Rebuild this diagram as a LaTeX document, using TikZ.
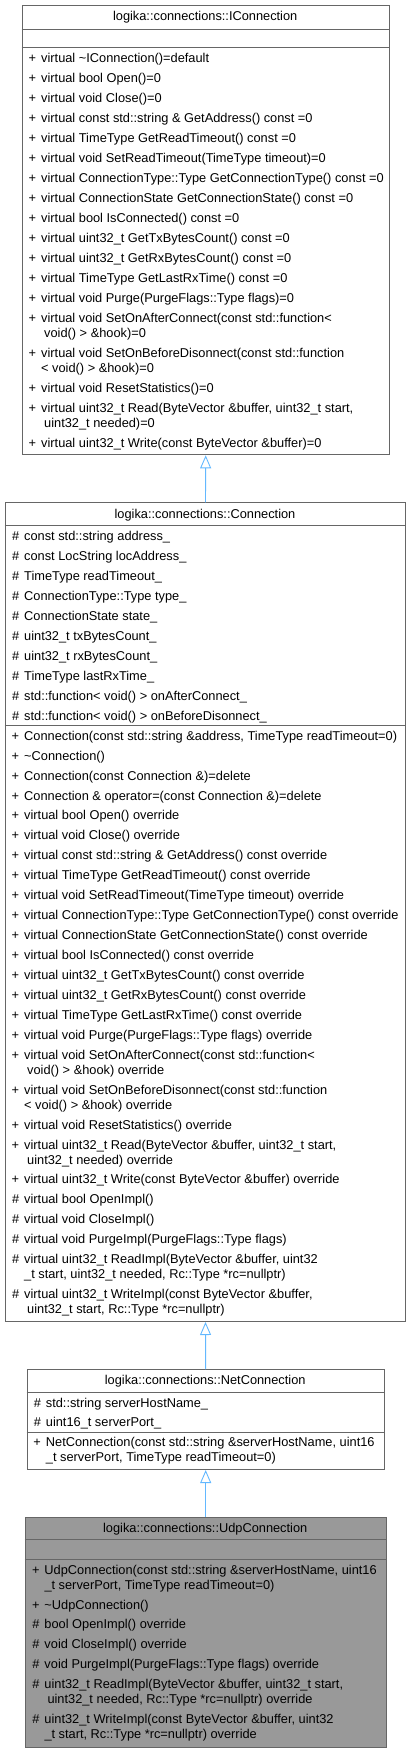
\documentclass[tikz,border=0pt]{standalone}
\usepackage{fontspec}
\setmainfont{Liberation Sans}
\usetikzlibrary{arrows.meta,positioning}
\definecolor{boxgray}{HTML}{666666}
\definecolor{edgeblue}{HTML}{63B8FF}
\definecolor{udpgray}{HTML}{999999}
\tikzset{>=latex,
  classbox/.style={draw=boxgray,line width=1pt,fill=white,anchor=north west,inner sep=0pt},
  member/.style={anchor=west,inner sep=0pt,font=\fontsize{12.8}{15}\selectfont},
  boxtitle/.style={inner sep=0pt,font=\fontsize{12.8}{15}\selectfont},
  inherit/.style={draw=edgeblue,line width=0.9pt,-{Triangle[open,length=13pt,width=11pt]}}}
\newcommand{\classsep}[2]{\draw[draw=boxgray,line width=1pt] (#1.west |- 0,#2) -- (#1.east |- 0,#2);}

\begin{document}
\begin{tikzpicture}[x=1pt,y=-1pt]
    \useasboundingbox (0,0) rectangle (411,1752);
    % class boxes
    \node[classbox,minimum width=367,minimum height=449.3] (iconn) at (21.7,5) {};
    \node[classbox,minimum width=400.6,minimum height=818.7] (conn) at (4.7,502.3) {};
    \node[classbox,minimum width=357,minimum height=99.7] (netconn) at (26.7,1369.3) {};
    \node[classbox,fill=udpgray,minimum width=361,minimum height=230] (udpconn) at (24.7,1516.7) {};
    \classsep{iconn}{29.3} \classsep{iconn}{47.7}
    \classsep{conn}{525.7} \classsep{conn}{725.3}
    \classsep{netconn}{1392.3} \classsep{netconn}{1432.7}
    \classsep{udpconn}{1539.3} \classsep{udpconn}{1559.3}
    % titles
    \node[boxtitle] (iconnT) at (205.2,17) {logika::connections::IConnection};
    \node[boxtitle] (connT) at (205,515.5) {logika::connections::Connection};
    \node[boxtitle] (netconnT) at (205.2,1381.5) {logika::connections::NetConnection};
    \node[boxtitle] (udpconnT) at (205.2,1529.5) {logika::connections::UdpConnection};
    % members
    \foreach \yy/\sym/\txt [count=\i] in {59/+/virtual \textasciitilde IConnection()=default,
        79/+/virtual bool Open()=0, 99/+/virtual void Close()=0,
        119/+/virtual const std::string \& GetAddress() const =0,
        139/+/virtual TimeType GetReadTimeout() const =0,
        159/+/virtual void SetReadTimeout(TimeType timeout)=0,
        179/+/virtual ConnectionType::Type GetConnectionType() const =0,
        199/+/virtual ConnectionState GetConnectionState() const =0,
        219/+/virtual bool IsConnected() const =0,
        239/+/virtual uint32\_t GetTxBytesCount() const =0,
        259/+/virtual uint32\_t GetRxBytesCount() const =0,
        279/+/virtual TimeType GetLastRxTime() const =0,
        299/+/virtual void Purge(PurgeFlags::Type flags)=0,
        319/+/virtual void SetOnAfterConnect(const std::function<,
        334//\hspace*{3pt}void() > \&hook)=0,
        354/+/virtual void SetOnBeforeDisonnect(const std::function,
        369//< void() > \&hook)=0,
        389/+/virtual void ResetStatistics()=0,
        409/+/{virtual uint32\_t Read(ByteVector \&buffer, uint32\_t start,},
        424//\hspace*{3pt}uint32\_t needed)=0,
        444/+/virtual uint32\_t Write(const ByteVector \&buffer)=0}
      \node[member] (ic\i) at (41,\yy) {\llap{\sym\hspace{5pt}}\txt};
    \foreach \yy/\sym/\txt [count=\i] in {537/\#/const std::string address\_,
        557/\#/const LocString locAddress\_, 577/\#/TimeType readTimeout\_,
        597/\#/ConnectionType::Type type\_, 617/\#/ConnectionState state\_,
        637/\#/uint32\_t txBytesCount\_, 657/\#/uint32\_t rxBytesCount\_,
        677/\#/TimeType lastRxTime\_,
        697/\#/std::function< void() > onAfterConnect\_,
        717/\#/std::function< void() > onBeforeDisonnect\_,
        737/+/{Connection(const std::string \&address, TimeType readTimeout=0)},
        757/+/\textasciitilde Connection(),
        777/+/Connection(const Connection \&)=delete,
        797/+/Connection \& operator=(const Connection \&)=delete,
        816/+/virtual bool Open() override, 836/+/virtual void Close() override,
        856/+/virtual const std::string \& GetAddress() const override,
        876/+/virtual TimeType GetReadTimeout() const override,
        896/+/virtual void SetReadTimeout(TimeType timeout) override,
        916/+/virtual ConnectionType::Type GetConnectionType() const override,
        936/+/virtual ConnectionState GetConnectionState() const override,
        956/+/virtual bool IsConnected() const override,
        976/+/virtual uint32\_t GetTxBytesCount() const override,
        996/+/virtual uint32\_t GetRxBytesCount() const override,
        1016/+/virtual TimeType GetLastRxTime() const override,
        1036/+/virtual void Purge(PurgeFlags::Type flags) override,
        1056/+/virtual void SetOnAfterConnect(const std::function<,
        1071//\hspace*{3pt}void() > \&hook) override,
        1091/+/virtual void SetOnBeforeDisonnect(const std::function,
        1106//< void() > \&hook) override,
        1126/+/virtual void ResetStatistics() override,
        1146/+/{virtual uint32\_t Read(ByteVector \&buffer, uint32\_t start,},
        1161//\hspace*{3pt}uint32\_t needed) override,
        1180/+/virtual uint32\_t Write(const ByteVector \&buffer) override,
        1200/\#/virtual bool OpenImpl(), 1220/\#/virtual void CloseImpl(),
        1240/\#/virtual void PurgeImpl(PurgeFlags::Type flags),
        1260/\#/{virtual uint32\_t ReadImpl(ByteVector \&buffer, uint32},
        1275//{\_t start, uint32\_t needed, Rc::Type *rc=nullptr)},
        1295/\#/{virtual uint32\_t WriteImpl(const ByteVector \&buffer,},
        1310//{\hspace*{3pt}uint32\_t start, Rc::Type *rc=nullptr)}}
      \node[member] (cm\i) at (24,\yy) {\llap{\sym\hspace{5pt}}\txt};
    \foreach \yy/\sym/\txt [count=\i] in {1404/\#/std::string serverHostName\_,
        1423/\#/uint16\_t serverPort\_,
        1443/+/{NetConnection(const std::string \&serverHostName, uint16},
        1458//{\_t serverPort, TimeType readTimeout=0)}}
      \node[member] (nm\i) at (45.7,\yy) {\llap{\sym\hspace{5pt}}\txt};
    \foreach \yy/\sym/\txt [count=\i] in {1571/+/{UdpConnection(const std::string \&serverHostName, uint16},
        1586//{\_t serverPort, TimeType readTimeout=0)},
        1606/+/\textasciitilde UdpConnection(),
        1625/\#/bool OpenImpl() override, 1645/\#/void CloseImpl() override,
        1665/\#/void PurgeImpl(PurgeFlags::Type flags) override,
        1685/\#/{uint32\_t ReadImpl(ByteVector \&buffer, uint32\_t start,},
        1700//{\hspace*{3pt}uint32\_t needed, Rc::Type *rc=nullptr) override},
        1720/\#/{uint32\_t WriteImpl(const ByteVector \&buffer, uint32},
        1735//{\_t start, Rc::Type *rc=nullptr) override}}
      \node[member] (um\i) at (44.3,\yy) {\llap{\sym\hspace{5pt}}\txt};
    % inheritance
    \draw[inherit] (conn.north) -- (iconn.south);
    \draw[inherit] (netconn.north) -- (conn.south);
    \draw[inherit] (udpconn.north) -- (netconn.south);
  \end{tikzpicture}
\end{document}
